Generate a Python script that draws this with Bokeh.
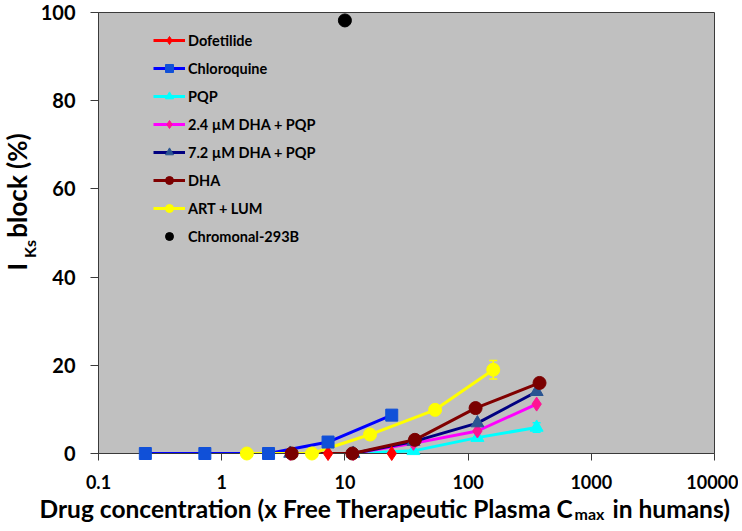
import math
from bokeh.plotting import figure
from bokeh.layouts import row, column
from bokeh.models import (Range1d, FixedTicker, CustomJSTickFormatter, Legend, LegendItem,
                          Whisker, ColumnDataSource, TeeHead)
from bokeh.core.properties import value
from bokeh.embed import file_html
from bokeh.resources import INLINE

# ---------------- data ----------------
x_ticks = [0.1, 1, 10, 100, 1000, 10000]
y_ticks = [0, 20, 40, 60, 80, 100]

dofetilide_x = [7.3, 24]
dofetilide_y = [0, 0]
chloroquine_x = [0.24, 0.73, 2.4, 7.3, 24]
chloroquine_y = [0, 0, 0, 2.6, 8.7]
pqp_x = [11.7, 36, 119, 360]
pqp_y = [0, 0.6, 3.6, 5.9]
pqp_err = [0, 0, 0, 1.1]
dha24_x = [3.6, 11.7, 36, 119, 360]
dha24_y = [0, 0, 2.3, 5.1, 11.2]
dha72_x = [3.6, 11.7, 36, 119, 360]
dha72_y = [0, 0, 2.7, 6.9, 14.0]
dha_x = [3.7, 11.5, 37, 115, 380]
dha_y = [0, 0, 3.1, 10.3, 16.0]
dha_err = [0, 0, 0, 1.0, 0.6]
artlum_x = [1.6, 5.4, 16, 54, 160]
artlum_y = [0, 0, 4.3, 9.9, 19.0]
artlum_err = [0, 0, 0, 0.8, 2.1]
chromanol_x = [10]
chromanol_y = [98.2]

series = [
    dict(label="Dofetilide", x=dofetilide_x, y=dofetilide_y, err=None,
         line="#FF0000", fill="#FF0000", marker="diamond", size=14),
    dict(label="Chloroquine", x=chloroquine_x, y=chloroquine_y, err=None,
         line="#0000FF", fill="#1050D8", marker="square", size=12),
    dict(label="PQP", x=pqp_x, y=pqp_y, err=pqp_err,
         line="#00FFFF", fill="#00FFFF", marker="triangle", size=13),
    dict(label="2.4 µM DHA + PQP", x=dha24_x, y=dha24_y, err=None,
         line="#FF00FF", fill="#FF1493", marker="diamond", size=14),
    dict(label="7.2 µM DHA + PQP", x=dha72_x, y=dha72_y, err=None,
         line="#000080", fill="#2A5592", marker="triangle", size=13),
    dict(label="DHA", x=dha_x, y=dha_y, err=dha_err,
         line="#800000", fill="#7A0000", marker="circle", size=13),
    dict(label="ART + LUM", x=artlum_x, y=artlum_y, err=artlum_err,
         line="#FFFF00", fill="#FFFF00", marker="circle", size=13),
]

FONT = "Lato"

# ---------------- geometry ----------------
YW = 44            # width of the y-title strip
YOV = 10           # overlap of y strip with main figure border
MW = 704           # main figure width
HM = 505           # main figure height
XH = 51            # height of the x-title strip
XOV = 25           # overlap of x strip with main figure border
FL, FR, FT, FB = 64, 24, 12, 52

p = figure(width=MW, height=HM, x_axis_type="log", output_backend="svg",
           toolbar_location=None, x_range=Range1d(0.1, 10000), y_range=Range1d(0, 100),
           min_border_left=FL, min_border_right=FR, min_border_top=FT, min_border_bottom=FB)
p.background_fill_color = "#C0C0C0"
p.border_fill_alpha = 0
p.outline_line_color = "#3A3A3A"
p.outline_line_width = 1
p.grid.visible = False

# axes
xa = p.xaxis[0]
xa.ticker = FixedTicker(ticks=x_ticks)
xa.formatter = CustomJSTickFormatter(code="return tick.toString()")
xa.minor_tick_line_color = None
xa.major_tick_out = 7
xa.major_tick_in = 0
xa.axis_line_color = "#3A3A3A"
xa.major_tick_line_color = "#3A3A3A"
xa.major_label_text_font = FONT
xa.major_label_text_font_style = "bold"
xa.major_label_text_font_size = "18px"
xa.major_label_text_color = "black"
xa.major_label_standoff = 14

ya = p.yaxis[0]
ya.ticker = FixedTicker(ticks=y_ticks)
ya.minor_tick_line_color = None
ya.major_tick_out = 8
ya.major_tick_in = 0
ya.axis_line_color = "#3A3A3A"
ya.major_tick_line_color = "#3A3A3A"
ya.major_label_text_font = FONT
ya.major_label_text_font_style = "bold"
ya.major_label_text_font_size = "20px"
ya.major_label_text_color = "black"
ya.major_label_standoff = 15

# lines first, then markers
line_rs = []
for s in series:
    r = p.line(s["x"], s["y"], line_color=s["line"], line_width=3)
    line_rs.append(r)

mark_rs = []
for s in series:
    r = p.scatter(s["x"], s["y"], marker=s["marker"], size=s["size"],
                  fill_color=s["fill"], line_color=s["fill"], level="overlay")
    mark_rs.append(r)
    if s["err"] is not None:
        up = [v + e for v, e in zip(s["y"], s["err"])]
        lo = [v - e for v, e in zip(s["y"], s["err"])]
        src = ColumnDataSource(dict(base=s["x"], upper=up, lower=lo))
        w = Whisker(source=src, base="base", upper="upper", lower="lower",
                    dimension="height", line_color=s["line"], line_width=1.5,
                    upper_head=TeeHead(size=8, line_color=s["line"], line_width=1.5),
                    lower_head=TeeHead(size=8, line_color=s["line"], line_width=1.5))
        p.add_layout(w)

chrom_r = p.scatter(chromanol_x, chromanol_y, marker="circle", size=13,
                    fill_color="black", line_color="black", level="overlay")

items = [LegendItem(label=s["label"], renderers=[lr, mr])
         for s, lr, mr in zip(series, line_rs, mark_rs)]
items.append(LegendItem(label="Chromonal-293B", renderers=[chrom_r]))
legend = Legend(items=items, location=(55, 207), orientation="vertical",
                background_fill_alpha=0, border_line_color=None,
                label_text_font=FONT, label_text_font_style="bold",
                label_text_font_size="14.5px", label_text_color="black",
                glyph_width=32, glyph_height=20, label_height=20,
                label_standoff=3, spacing=8, padding=0, margin=0)
p.add_layout(legend, "center")


def strip(w, h):
    f = figure(width=w, height=h, output_backend="svg", toolbar_location=None,
               x_range=Range1d(0, w), y_range=Range1d(0, h),
               x_axis_location=None, y_axis_location=None,
               min_border=0, min_border_left=0, min_border_right=0,
               min_border_top=0, min_border_bottom=0)
    f.outline_line_color = None
    f.grid.visible = False
    f.background_fill_alpha = 0
    f.border_fill_alpha = 0
    return f


def txt(f, x, y, s, size, align="left", angle=0.0, baseline="alphabetic"):
    f.text(x=[x], y=[y], text=[s], text_font=value(FONT), text_font_style="bold",
           text_font_size=size, text_color="black", text_align=align,
           text_baseline=baseline, angle=angle)


# y-axis title: I + subscript Ks + block (%)
ylab = strip(YW, HM)
ylab.margin = (0, -YOV, 0, 0)
txt(ylab, 16, HM - 291, "I", "26px", align="center", angle=math.pi / 2, baseline="middle")
txt(ylab, 29, HM - 281, "Ks", "16px", align="left", angle=math.pi / 2, baseline="middle")
txt(ylab, 16, HM - 258, "block (%)", "26px", align="left", angle=math.pi / 2, baseline="middle")

# x-axis title: ... C + subscript max + in humans)
xlab = strip(YW - YOV + MW, XH)
xlab.margin = (-XOV, 0, 0, 0)
top = HM - XOV
base_y = XH - (508 - top)
txt(xlab, 573, base_y, "Drug concentration (x Free Therapeutic Plasma C", "24.5px", align="right")
txt(xlab, 574, base_y - 5, "max", "16px", align="left")
txt(xlab, 612, base_y, "in humans)", "24.5px", align="left")

layout = column(row(ylab, p), xlab)
open("out.html", "w").write(file_html(layout, INLINE))
